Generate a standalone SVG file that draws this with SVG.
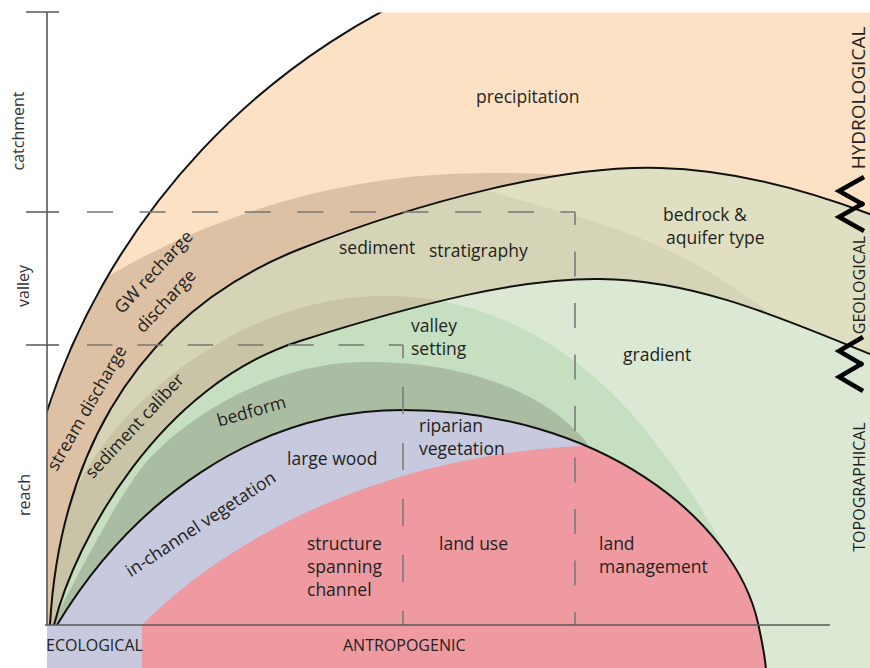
<svg xmlns="http://www.w3.org/2000/svg" width="870" height="668" viewBox="0 0 870 668">
<style>
.lbl{font-family:"Open Sans","Liberation Sans",sans-serif;font-size:17.5px;fill:#231f20}
.ax{font-family:"Open Sans","Liberation Sans",sans-serif;font-size:16px;fill:#333}
.cat{font-family:"Open Sans","Liberation Sans",sans-serif;font-size:16px;fill:#231f20}
.mid{text-anchor:middle}
.edge{fill:none;stroke:#111;stroke-width:2}
.dash{fill:none;stroke:#7a7a7a;stroke-opacity:.8;stroke-width:2}
.axis{fill:none;stroke:#58585a;stroke-width:1.6}
.chev{fill:none;stroke:#000;stroke-width:4.5}
</style>
<defs>
<clipPath id="frame"><rect x="47" y="12.5" width="823" height="656"/></clipPath>
<clipPath id="cP1"><path d="M40,433.7 A702,702 0 0 1 474.8,-30 L880,-30 L880,700 L40,700 Z"/></clipPath>
<clipPath id="cP2"><path d="M50,625 C58,480 120,320 300,249 C420,201.7 560,165 660,168 C740,170 820,195 875,216 L880,700 L47,700 L47,625 Z"/></clipPath>
<clipPath id="cP3"><path d="M54,625 C75,540 160,385 300,341 C420,303 520,278 600,279 C700,280 790,322 875,356 L880,700 L47,700 L47,625 Z"/></clipPath>
<clipPath id="cP4"><path d="M47,700 L47,625 L57,625 C130,504 253,410 403,410 C600,410 735,520 758,623 C763,646 767,665 768,700 Z"/></clipPath>
</defs>

<g id="regions" clip-path="url(#frame)">
  <g id="hydrological">
    <path fill="#fce1c4" d="M40,433.7 A702,702 0 0 1 474.8,-30 L880,-30 L880,700 L40,700 Z"/>
    <path fill="#dcc1a5" clip-path="url(#cP1)" d="M30,340 L107,277 C200,222 320,180 450,174 C500,172 540,173 580,176 L580,700 L30,700 Z"/>
  </g>
  <g id="geological">
    <path fill="#e1dfc1" d="M50,625 C58,480 120,320 300,249 C420,201.7 560,165 660,168 C740,170 820,195 875,216 L880,700 L47,700 L47,625 Z"/>
    <path fill="#d6d4b6" clip-path="url(#cP2)" d="M0,0 L420,0 L420,170 C480,190 540,205 580,217 C650,238 720,270 790,330 L790,700 L0,700 Z"/>
    <path fill="#c8c4a5" clip-path="url(#cP2)" d="M40,700 L40,560 L60,530 C90,420 230,298 380,296 C500,294 590,360 647,432 C690,486 725,540 745,600 L745,700 Z"/>
  </g>
  <g id="topographical">
    <path fill="#dbe9d4" d="M54,625 C75,540 160,385 300,341 C420,303 520,278 600,279 C700,280 790,322 875,356 L880,700 L47,700 L47,625 Z"/>
    <path fill="#c6dfc1" clip-path="url(#cP3)" d="M40,700 L40,560 L60,530 C90,420 230,298 380,296 C500,294 590,360 647,432 C690,486 725,540 745,600 L745,700 Z"/>
    <path fill="#aabda2" clip-path="url(#cP3)" d="M40,700 L40,625 L52,625 C65,600 110,510 140,470 C170,430 260,364 360,362 C450,360 540,385 587,443 L592,700 Z"/>
  </g>
  <g id="ecological">
    <path fill="#c7c9df" d="M47,700 L47,625 L57,625 C130,504 253,410 403,410 C600,410 735,520 758,623 C763,646 767,665 768,700 Z"/>
  </g>
  <g id="antropogenic">
    <path fill="#ef9aa1" clip-path="url(#cP4)" d="M142,700 L142,625 C230,535 400,445 620,445 L880,445 L880,700 Z"/>
  </g>
  <g id="boundaries">
    <path class="edge" d="M40,433.7 A702,702 0 0 1 474.8,-30"/>
    <path class="edge" d="M50,625 C58,480 120,320 300,249 C420,201.7 560,165 660,168 C740,170 820,195 875,216"/>
    <path class="edge" d="M54,625 C75,540 160,385 300,341 C420,303 520,278 600,279 C700,280 790,322 875,356"/>
    <path class="edge" d="M57,625 C130,504 253,410 403,410 C600,410 735,520 758,623 C763,646 767,665 768,700"/>
  </g>
</g>

<g id="scale-lines">
  <path class="dash" d="M87,212 H575" stroke-dasharray="26 26.6"/>
  <path class="dash" d="M575,212 V625" stroke-dasharray="25 26.5" stroke-dashoffset="12"/>
  <path class="dash" d="M87,345 H403" stroke-dasharray="25.5 24.8"/>
  <path class="dash" d="M403,345 V625" stroke-dasharray="27 29" stroke-dashoffset="14"/>
</g>

<g id="axes">
  <path class="axis" d="M47,12 V625 M26,12 H59 M26,212 H59 M26,345 H59"/>
  <path class="axis" stroke-width="2" d="M45,625 H830"/>
</g>

<g id="chevrons">
  <polyline class="chev" points="864,177 839,191 864,205"/>
  <polyline class="chev" points="864,203 839,217 864,231"/>
  <polyline class="chev" points="863,337 839,351 863,365"/>
  <polyline class="chev" points="863,363 839,377 863,391"/>
</g>

<g id="axis-labels">
  <text class="ax mid" transform="translate(24,131) rotate(-90)">catchment</text>
  <text class="ax mid" transform="translate(29,286) rotate(-90)">valley</text>
  <text class="ax mid" transform="translate(30,495) rotate(-90)">reach</text>
</g>

<g id="category-labels">
  <text class="cat mid" style="font-size:19px" transform="translate(865,98) rotate(-90)">HYDROLOGICAL</text>
  <text class="cat mid" transform="translate(865,285) rotate(-90)">GEOLOGICAL</text>
  <text class="cat mid" transform="translate(865,487) rotate(-90)">TOPOGRAPHICAL</text>
  <text class="cat" x="46" y="651">ECOLOGICAL</text>
  <text class="cat" x="343" y="651">ANTROPOGENIC</text>
</g>

<g id="labels">
  <text class="lbl" x="476" y="103">precipitation</text>
  <text class="lbl" x="663" y="221">bedrock &amp;</text>
  <text class="lbl" x="666" y="244">aquifer type</text>
  <text class="lbl" x="339" y="254">sediment</text>
  <text class="lbl" x="429" y="257">stratigraphy</text>
  <text class="lbl" x="411" y="332">valley</text>
  <text class="lbl" x="411" y="355">setting</text>
  <text class="lbl" x="623" y="361">gradient</text>
  <text class="lbl" x="419" y="432">riparian</text>
  <text class="lbl" x="419" y="455">vegetation</text>
  <text class="lbl" x="287" y="465">large wood</text>
  <text class="lbl" x="307" y="550">structure</text>
  <text class="lbl" x="307" y="573">spanning</text>
  <text class="lbl" x="307" y="596">channel</text>
  <text class="lbl" x="439" y="550">land use</text>
  <text class="lbl" x="599" y="550">land</text>
  <text class="lbl" x="599" y="573">management</text>
  <text class="lbl mid" transform="translate(253,417) rotate(-16)">bedform</text>
  <text class="lbl mid" transform="translate(158,276) rotate(-47)">GW recharge</text>
  <text class="lbl mid" transform="translate(170,305) rotate(-47)">discharge</text>
  <text class="lbl mid" transform="translate(92,411) rotate(-60)">stream discharge</text>
  <text class="lbl mid" transform="translate(139,430) rotate(-47)">sediment caliber</text>
  <text class="lbl mid" transform="translate(204,529) rotate(-33.5)">in-channel vegetation</text>
</g>
</svg>
